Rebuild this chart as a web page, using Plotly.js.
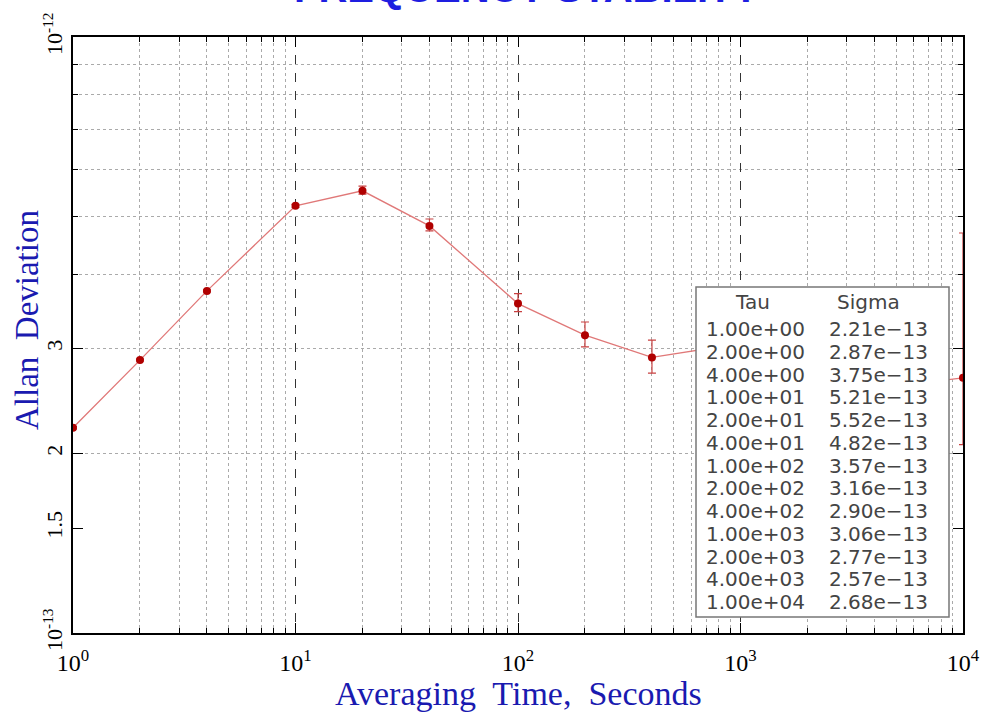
<!DOCTYPE html>
<html>
<head>
<meta charset="utf-8">
<script src="https://cdn.plot.ly/plotly-3.0.1.min.js"></script>
<style>html,body{margin:0;padding:0;background:#fff;}#chart{width:984px;height:712px;}</style>
</head>
<body>
<div id="chart"></div>
<script>
// ---- data ----
const tau = [1, 2, 4, 10, 20, 40, 100, 200, 400, 1000, 2000, 4000, 10000];
const sigma = [2.21e-13, 2.87e-13, 3.75e-13, 5.21e-13, 5.52e-13, 4.82e-13, 3.57e-13, 3.16e-13, 2.90e-13, 3.06e-13, 2.77e-13, 2.57e-13, 2.68e-13];
const errPlus = [0.01e-13, 0.01e-13, 0.015e-13, 0.03e-13, 0.10e-13, 0.13e-13, 0.14e-13, 0.165e-13, 0.20e-13, 0.30e-13, 0.45e-13, 0.70e-13, 2.01e-13];
const errMinus = [0.01e-13, 0.01e-13, 0.015e-13, 0.03e-13, 0.07e-13, 0.09e-13, 0.11e-13, 0.14e-13, 0.17e-13, 0.25e-13, 0.35e-13, 0.45e-13, 0.61e-13];
const xTickVals = [1, 10, 100, 1000, 10000];
const xTickText = ['10<sup>0</sup>', '10<sup>1</sup>', '10<sup>2</sup>', '10<sup>3</sup>', '10<sup>4</sup>'];
const yTickVals = [1e-13, 1.5e-13, 2e-13, 3e-13, 1e-12];
const yTickText = ['10<sup>-13</sup>', '1.5', '2', '3', '10<sup>-12</sup>'];
const titleText = 'FREQUENCY STABILITY';
const xTitle = 'Averaging\u00A0 Time,\u00A0 Seconds';
const yTitle = 'Allan\u00A0 Deviation';
const tableHeaders = ['Tau', 'Sigma'];

// minor grid positions (2..9 per decade)
const xMinor = [];
for (let d = 0; d < 4; d++) for (let m = 2; m <= 9; m++) xMinor.push(m * Math.pow(10, d));
const yMinor = [];
for (let m = 2; m <= 9; m++) yMinor.push(m * 1e-13);

function fmtTau(v) {
  let s = v.toExponential(2);
  return s.replace(/e([+-])(\d)$/, 'e$10$2');
}
function fmtSig(v) {
  return v.toExponential(2).replace('-', '\u2212');
}

const trace = {
  x: tau, y: sigma, type: 'scatter', mode: 'lines+markers',
  line: {color: '#e07878', width: 1.3},
  marker: {color: '#b00000', size: 8},
  error_y: {type: 'data', symmetric: false, array: errPlus, arrayminus: errMinus,
            color: '#c84040', thickness: 1.2, width: 4}
};

// table annotations
const plotL = 73, plotR = 963, plotT = 37, plotB = 633;
const px = v => (v - plotL) / (plotR - plotL);
const py = v => (plotB - v) / (plotB - plotT);
const tblFont = {family: 'DejaVu Sans', size: 20, color: '#444444'};
const annotations = [];
annotations.push({xref: 'paper', yref: 'paper', x: px(752), y: py(302), text: tableHeaders[0], showarrow: false, xanchor: 'center', yanchor: 'middle', font: tblFont});
annotations.push({xref: 'paper', yref: 'paper', x: px(868), y: py(302), text: tableHeaders[1], showarrow: false, xanchor: 'center', yanchor: 'middle', font: tblFont});
for (let i = 0; i < tau.length; i++) {
  const yc = 329 + i * 22.75;
  annotations.push({xref: 'paper', yref: 'paper', x: px(704), y: py(yc), text: fmtTau(tau[i]), showarrow: false, xanchor: 'left', yanchor: 'middle', font: tblFont});
  annotations.push({xref: 'paper', yref: 'paper', x: px(827), y: py(yc), text: fmtSig(sigma[i]), showarrow: false, xanchor: 'left', yanchor: 'middle', font: tblFont});
}
annotations.push({xref: 'paper', yref: 'paper', x: 0.51, y: 1, yanchor: 'bottom', yshift: 25, text: '<b>' + titleText + '</b>', showarrow: false,
  font: {family: 'Liberation Sans', size: 40, color: '#1e1ee0'}});
annotations.push({xref: 'paper', yref: 'paper', x: px(27), y: py(320), xanchor: 'center', yanchor: 'middle', textangle: -90,
  text: yTitle, showarrow: false, font: {family: 'Liberation Serif', size: 33, color: '#1a1ab0'}});
annotations.push({xref: 'paper', yref: 'paper', x: px(518), y: py(693), xanchor: 'center', yanchor: 'middle',
  text: xTitle, showarrow: false, font: {family: 'Liberation Serif', size: 34, color: '#1a1ab0'}});

const layout = {
  width: 984, height: 712,
  margin: {l: plotL, r: 984 - plotR, t: plotT, b: 712 - plotB},
  paper_bgcolor: '#fff', plot_bgcolor: '#fff',
  showlegend: false,
  xaxis: {
    type: 'log', range: [0, 4],
    tickmode: 'array', tickvals: xTickVals, ticktext: xTickText,
    ticks: 'inside', ticklen: 10, tickcolor: '#000',
    showline: true, linecolor: '#000', linewidth: 2, mirror: 'ticks',
    showgrid: true, gridcolor: '#333', griddash: 'dash', gridwidth: 1,
    zeroline: false, ticklabelstandoff: 7,
    tickfont: {family: 'Liberation Serif', size: 24, color: '#000'},
    minor: {tickmode: 'array', tickvals: xMinor, ticks: 'inside', ticklen: 5, tickcolor: '#000',
            showgrid: true, gridcolor: '#aaa', griddash: 'dot', gridwidth: 1}
  },
  yaxis: {
    type: 'log', range: [-13, -12],
    tickmode: 'array', tickvals: yTickVals, ticktext: yTickText, tickangle: -90,
    ticks: 'inside', ticklen: 10, tickcolor: '#000',
    showline: true, linecolor: '#000', linewidth: 2, mirror: 'ticks',
    showgrid: false, zeroline: false,
    tickfont: {family: 'Liberation Serif', size: 22, color: '#000'},
    minor: {tickmode: 'array', tickvals: yMinor, ticks: 'inside', ticklen: 5, tickcolor: '#000',
            showgrid: true, gridcolor: '#aaa', griddash: 'dot', gridwidth: 1}
  },
  shapes: [
    {type: 'rect', xref: 'paper', yref: 'paper', x0: px(696), x1: px(949), y0: py(617), y1: py(287),
     fillcolor: '#fff', line: {color: '#777', width: 1.5}, layer: 'above'}
  ],
  annotations: annotations
};

Plotly.newPlot('chart', [trace], layout, {displayModeBar: false, staticPlot: true});
</script>
</body>
</html>
